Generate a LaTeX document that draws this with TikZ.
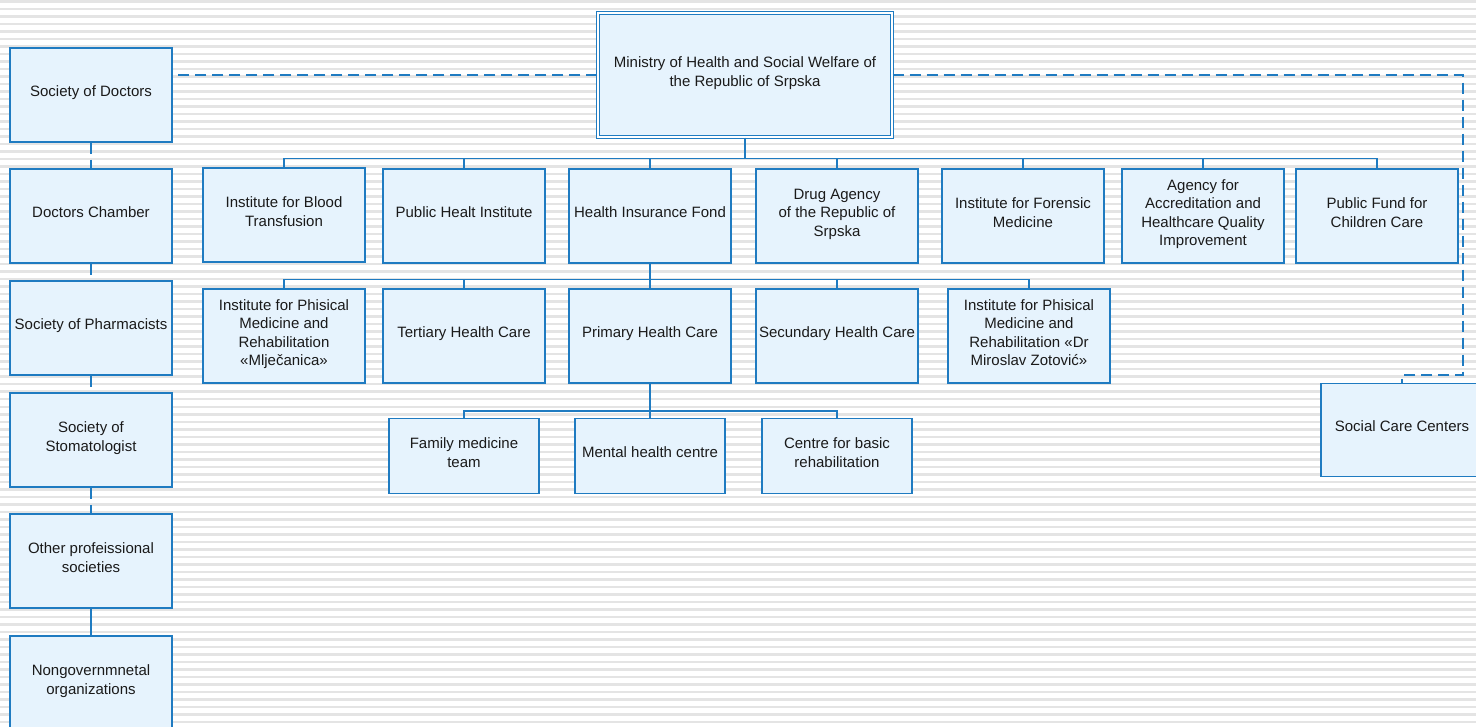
\documentclass[tikz,border=0pt]{standalone}
\usepackage{fontspec}
\setmainfont{Liberation Sans}
\usepackage{xcolor}
\usepackage{tikz}
\usetikzlibrary{arrows.meta,positioning,shapes}
\definecolor{boxblue}{RGB}{31,123,193}
\definecolor{boxfill}{RGB}{230,243,253}
\definecolor{stripegray}{RGB}{228,228,228}
\definecolor{textdark}{RGB}{26,26,26}

\begin{document}
\begin{tikzpicture}[x=1pt, y=-1pt,
    unit/.style={draw=boxblue, fill=boxfill, line width=1.5pt, minimum width=162pt,
        minimum height=94pt, inner sep=2pt, align=center, text=textdark, text depth=7pt,
        font=\fontsize{15}{18.5}\selectfont},
    small/.style={unit, minimum width=150pt, minimum height=75pt},
    link/.style={draw=boxblue, line width=1.5pt},
    stem/.style={link, line width=2.5pt},
    dashlink/.style={link, dash pattern=on 11pt off 6pt}
]
    \useasboundingbox (0,0) rectangle (1476,727);
    % Background
    \fill[white] (0,0) rectangle (1476,727);
    \foreach \k in {0,...,96}
        \fill[stripegray] (0,{0.5+7.5*\k}) rectangle (1476,{3+7.5*\k});

    % Ministry
    \node[unit, double=white, double distance=2pt, line width=1.4pt,
        minimum width=294pt, minimum height=124pt] (ministry) at (745,75)
        {Ministry of Health and Social Welfare of\\the Republic of Srpska};

    % Societies
    \node[unit] (doctors) at (91,95) {Society of Doctors};
    \node[unit] (chamber) at (91,216) {Doctors Chamber};
    \node[unit] (pharma) at (91,328) {Society of Pharmacists};
    \node[unit] (stoma) at (91,440) {Society of\\Stomatologist};
    \node[unit] (otherprof) at (91,561) {Other profeissional\\societies};
    \node[unit] (ngo) at (91,683) {Nongovernmnetal\\organizations};

    % Agencies and institutes
    \node[unit] (blood) at (284,215) {Institute for Blood\\Transfusion};
    \node[unit] (publichealth) at (464,216) {Public Healt Institute};
    \node[unit] (insurance) at (650,216) {Health Insurance Fond};
    \node[unit] (drug) at (837,216) {Drug Agency\\of the Republic of\\Srpska};
    \node[unit] (forensic) at (1023,216) {Institute for Forensic\\Medicine};
    \node[unit] (accreditation) at (1203,216) {Agency for\\Accreditation and\\Healthcare Quality\\Improvement};
    \node[unit] (childfund) at (1377,216) {Public Fund for\\Children Care};

    % Health care levels
    \node[unit] (mljecanica) at (284,336) {Institute for Phisical\\Medicine and\\Rehabilitation\\«Mlječanica»};
    \node[unit] (tertiary) at (464,336) {Tertiary Health Care};
    \node[unit] (primary) at (650,336) {Primary Health Care};
    \node[unit] (secondary) at (837,336) {Secundary Health Care};
    \node[unit] (zotovic) at (1029,336) {Institute for Phisical\\Medicine and\\Rehabilitation «Dr\\Miroslav Zotović»};

    % Primary care units
    \node[small] (family) at (464,456) {Family medicine\\team};
    \node[small] (mental) at (650,456) {Mental health centre};
    \node[small] (basicrehab) at (837,456) {Centre for basic\\rehabilitation};

    \node[unit, minimum height=93pt] (socialcare) at (1402,430) {Social Care Centers};

    % Tree connections
    \draw[stem] (ministry.south) -- ++(0,21) coordinate (bus1);
    \foreach \n in {blood,publichealth,insurance,drug,forensic,accreditation,childfund}
        \draw[link] (bus1) -| (\n.north);
    \draw[stem] (insurance.south) -- ++(0,16) coordinate (bus2);
    \foreach \n in {mljecanica,tertiary,primary,secondary,zotovic}
        \draw[link] (bus2) -| (\n.north);
    \draw[link] (primary.south) -- ++(0,27) coordinate (bus3);
    \foreach \n in {family,mental,basicrehab}
        \draw[link] (bus3) -| (\n.north);

    % Society chain
    \draw[dashlink] (doctors.south) -- (chamber.north);
    \draw[dashlink] (chamber.south) -- (pharma.north);
    \draw[dashlink] (pharma.south) -- (stoma.north);
    \draw[dashlink] (stoma.south) -- (otherprof.north);
    \draw[link] (otherprof.south) -- (ngo.north);

    % Dashed links
    \draw[dashlink] (ministry.west) -- (ministry.west -| doctors.east);
    \coordinate (bend) at (1463,375);
    \draw[dashlink] (ministry.east) -| (bend) -| (socialcare.north);
\end{tikzpicture}
\end{document}
